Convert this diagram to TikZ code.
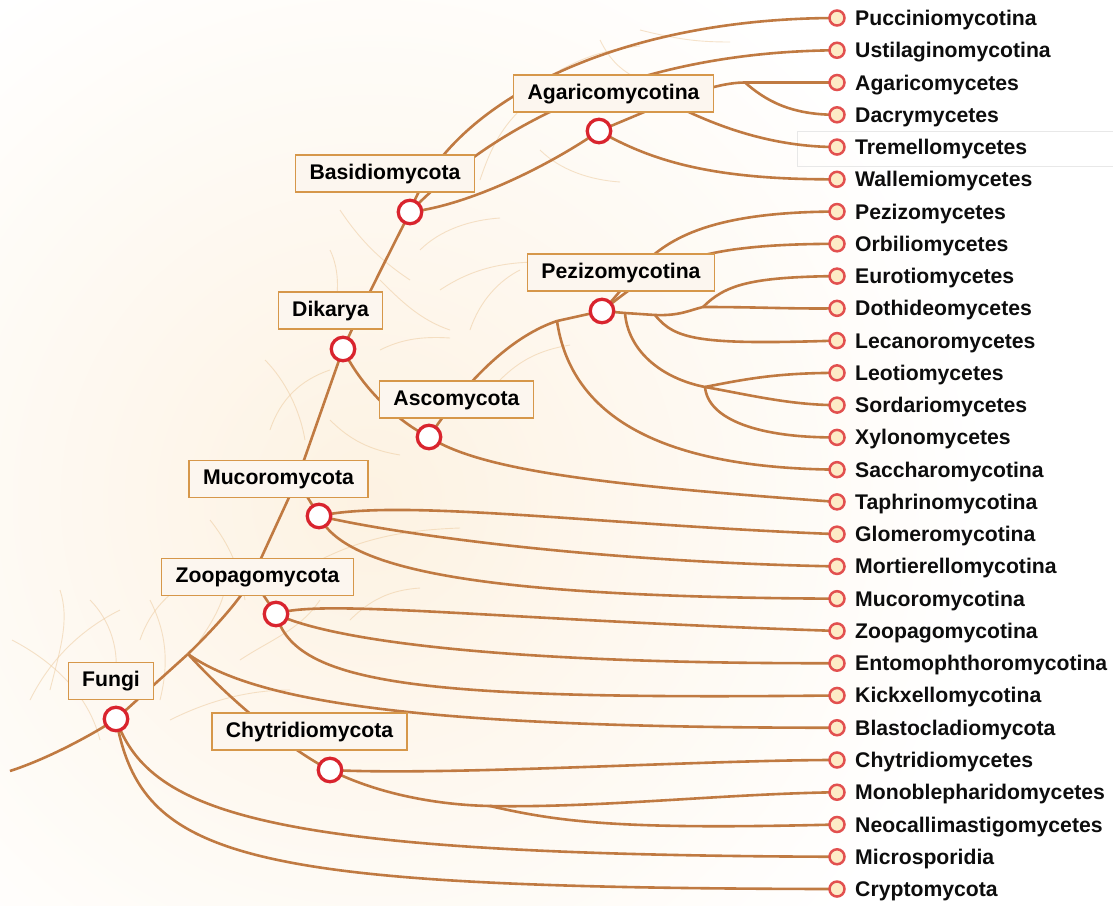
\documentclass[tikz,border=0pt]{standalone}
\usepackage{fontspec}
\setmainfont{Liberation Sans}
\pgfdeclarelayer{back}
\pgfdeclarelayer{edges}
\pgfsetlayers{back,edges,main}
\definecolor{edgecol}{HTML}{C07A42}
\definecolor{nodered}{HTML}{D9242E}
\definecolor{leafred}{HTML}{E2504F}
\definecolor{leaffill}{HTML}{FDEBC6}
\definecolor{boxfill}{HTML}{FCF6EF}
\definecolor{boxdraw}{HTML}{D6974A}
\definecolor{glow}{HTML}{FDF2E2}
\definecolor{hair}{HTML}{EDCBA0}
\tikzset{
  edgeline/.style={draw=edgecol, line width=2.6pt},
  hairline/.style={draw=hair, line width=0.9pt, opacity=0.55},
  inode/.style={circle, draw=nodered, fill=white, line width=3.3pt, minimum size=23.5pt, inner sep=0pt},
  leaf/.style={circle, draw=leafred, fill=leaffill, line width=2.5pt, minimum size=15pt, inner sep=0pt},
  lbl/.style={draw=boxdraw, fill=boxfill, line width=1.3pt, inner xsep=14pt, inner ysep=0pt,
    text height=15pt, text depth=4pt, minimum height=37pt,
    font=\fontsize{21.2}{24}\selectfont\bfseries, text=black},
  leaftext/.style={anchor=base west, inner sep=0pt, font=\fontsize{21.2}{24}\selectfont\bfseries, text=black!95}
}
\begin{document}
\begin{tikzpicture}[x=1pt, y=-1pt]
\useasboundingbox (0,0) rectangle (1113,905);
\begin{pgfonlayer}{back}
  \fill[white] (0,0) rectangle (1113,905);
  \begin{scope}
    \clip (0,0) rectangle (1113,905);
    \shade[inner color=glow, outer color=white] (370,500) circle (620);
  \end{scope}
  \draw[black!9, line width=0.8pt] (797,131) rectangle (1116,166);
  % faint hairlines
  \draw[hairline] (12,640) .. controls (60,665) and (90,700) .. (100,740);
  \draw[hairline] (30,700) .. controls (50,660) and (80,630) .. (120,610);
  \draw[hairline] (50,690) .. controls (60,650) and (70,620) .. (60,590);
  \draw[hairline] (140,640) .. controls (150,610) and (170,590) .. (200,575);
  \draw[hairline] (150,600) .. controls (165,630) and (170,660) .. (160,700);
  \draw[hairline] (200,640) .. controls (220,610) and (230,590) .. (225,560);
  \draw[hairline] (170,720) .. controls (210,700) and (250,690) .. (290,690);
  \draw[hairline] (240,660) .. controls (270,640) and (300,630) .. (320,600);
  \draw[hairline] (210,520) .. controls (230,545) and (240,570) .. (245,600);
  \draw[hairline] (320,560) .. controls (360,540) and (400,530) .. (460,528);
  \draw[hairline] (350,620) .. controls (370,600) and (390,590) .. (420,588);
  \draw[hairline] (270,430) .. controls (280,400) and (300,380) .. (330,370);
  \draw[hairline] (265,360) .. controls (285,380) and (300,410) .. (305,440);
  \draw[hairline] (330,420) .. controls (350,440) and (370,450) .. (400,455);
  \draw[hairline] (340,210) .. controls (360,240) and (380,260) .. (410,280);
  \draw[hairline] (330,250) .. controls (340,270) and (340,300) .. (330,320);
  \draw[hairline] (380,280) .. controls (400,300) and (420,320) .. (450,330);
  \draw[hairline] (420,250) .. controls (440,230) and (470,220) .. (500,218);
  \draw[hairline] (440,290) .. controls (470,270) and (500,262) .. (540,262);
  \draw[hairline] (470,330) .. controls (480,300) and (500,280) .. (520,270);
  \draw[hairline] (480,180) .. controls (490,150) and (500,130) .. (520,110);
  \draw[hairline] (540,150) .. controls (560,170) and (590,180) .. (620,182);
  \draw[hairline] (560,70) .. controls (580,60) and (600,50) .. (640,46);
  \draw[hairline] (600,40) .. controls (610,60) and (620,70) .. (640,80);
  \draw[hairline] (640,30) .. controls (680,40) and (700,42) .. (730,42);
  \draw[hairline] (380,350) .. controls (400,340) and (420,336) .. (450,338);
  \draw[hairline] (500,380) .. controls (520,360) and (540,350) .. (570,345);
  \draw[hairline] (90,600) .. controls (110,620) and (120,650) .. (115,680);
\end{pgfonlayer}

% leaves
\foreach \n/\t [count=\i] in {puc/Pucciniomycotina, ust/Ustilaginomycotina, agm/Agaricomycetes,
  dac/Dacrymycetes, tre/Tremellomycetes, wal/Wallemiomycetes, pez/Pezizomycetes,
  orb/Orbiliomycetes, eur/Eurotiomycetes, dot/Dothideomycetes, lec/Lecanoromycetes,
  leo/Leotiomycetes, sor/Sordariomycetes, xyl/Xylonomycetes, sac/Saccharomycotina,
  tap/Taphrinomycotina, glo/Glomeromycotina, mor/Mortierellomycotina, muc/Mucoromycotina,
  zoo/Zoopagomycotina, ent/Entomophthoromycotina, kic/Kickxellomycotina,
  bla/Blastocladiomycota, chy/Chytridiomycetes, mon/Monoblepharidomycetes,
  neo/Neocallimastigomycetes, mic/Microsporidia, cry/Cryptomycota} {
  \node[leaf] (\n) at (837,{18+(\i-1)*32.26}) {};
  \node[leaftext] (\n-t) at (855,{18+(\i-1)*32.26+7.5}) {\t};
}

% junction coordinates
\coordinate (root) at (10,771);
\coordinate (j1) at (188,654);
\coordinate (j2) at (252,578);
\coordinate (j3) at (297,480);
\coordinate (j4) at (490,806);
\coordinate (j5) at (557,321);
\coordinate (j6) at (655,315);
\coordinate (j7) at (703,307);
\coordinate (j8) at (705,387);
\coordinate (j9) at (625,313);
\coordinate (jt) at (668,102);
\coordinate (ja) at (745,82.5);

% labels (boxes)
\node[lbl] (fungi-l) at (111,681) {Fungi};
\node[lbl] (zoopago-l) at (257.5,577) {Zoopagomycota};
\node[lbl] (chytrid-l) at (309.5,731.5) {Chytridiomycota};
\node[lbl] (mucoro-l) at (278.5,479) {Mucoromycota};
\node[lbl] (dikarya-l) at (330.5,310.5) {Dikarya};
\node[lbl] (basidio-l) at (385,173.5) {Basidiomycota};
\node[lbl] (agarico-l) at (613.5,93.5) {Agaricomycotina};
\node[lbl] (pezizo-l) at (621,272.5) {Pezizomycotina};
\node[lbl] (asco-l) at (456.5,399.5) {Ascomycota};

% internal nodes
\node[inode] (fungi) at (116,719) {};
\node[inode] (zoopago) at (276,614) {};
\node[inode] (mucoro) at (319,516) {};
\node[inode] (dikarya) at (343,349) {};
\node[inode] (basidio) at (410,212) {};
\node[inode] (agarico) at (599,131) {};
\node[inode] (asco) at (429,437) {};
\node[inode] (pezizo) at (602,311) {};
\node[inode] (chytrid) at (330,770) {};

\begin{pgfonlayer}{edges}
  \draw[edgeline] (root) .. controls (50,758) and (95,733) .. (fungi.center);
  \draw[edgeline] (fungi.center) -- (j1);
  \draw[edgeline] (j1) .. controls (225,618) and (245,592) .. (j2);
  \draw[edgeline] (j2) -- (j3);
  \draw[edgeline] (j3) -- (dikarya.center);
  \draw[edgeline] (j2) -- (zoopago.center);
  \draw[edgeline] (j3) -- (mucoro.center);
  \draw[edgeline] (j1) .. controls (255,702) and (420,728) .. (bla.center);
  \draw[edgeline] (j1) .. controls (230,700) and (290,750) .. (chytrid.center);
  \draw[edgeline] (fungi.center) .. controls (150,815) and (270,855) .. (mic.center);
  \draw[edgeline] (fungi.center) .. controls (142,860) and (240,888) .. (cry.center);
  % Chytridiomycota
  \draw[edgeline] (chytrid.center) .. controls (450,776) and (700,760) .. (chy.center);
  \draw[edgeline] (chytrid.center) .. controls (380,795) and (440,805) .. (j4);
  \draw[edgeline] (j4) .. controls (600,808) and (720,794) .. (mon.center);
  \draw[edgeline] (j4) .. controls (560,822) and (620,830) .. (neo.center);
  % Mucoromycota
  \draw[edgeline] (mucoro.center) .. controls (400,498) and (600,525) .. (glo.center);
  \draw[edgeline] (mucoro.center) .. controls (400,535) and (600,562) .. (mor.center);
  \draw[edgeline] (mucoro.center) .. controls (345,570) and (480,597) .. (muc.center);
  % Zoopagomycota
  \draw[edgeline] (zoopago.center) .. controls (320,598) and (500,620) .. (zoo.center);
  \draw[edgeline] (zoopago.center) .. controls (330,640) and (500,664) .. (ent.center);
  \draw[edgeline] (zoopago.center) .. controls (295,685) and (420,700) .. (kic.center);
  % Dikarya
  \draw[edgeline] (dikarya.center) .. controls (365,300) and (392,248) .. (basidio.center);
  \draw[edgeline] (dikarya.center) .. controls (360,385) and (395,420) .. (asco.center);
  % Basidiomycota
  \draw[edgeline] (basidio.center) .. controls (450,100) and (620,18) .. (puc.center);
  \draw[edgeline] (basidio.center) .. controls (470,150) and (600,52) .. (ust.center);
  \draw[edgeline] (basidio.center) .. controls (470,205) and (550,165) .. (agarico.center);
  % Agaricomycotina
  \draw[edgeline] (agarico.center) -- (jt);
  \draw[edgeline] (jt) .. controls (700,90) and (725,82.5) .. (ja);
  \draw[edgeline] (ja) -- (agm.center);
  \draw[edgeline] (ja) .. controls (765,100) and (790,115) .. (dac.center);
  \draw[edgeline] (jt) .. controls (700,118) and (760,147) .. (tre.center);
  \draw[edgeline] (agarico.center) .. controls (650,160) and (710,180) .. (wal.center);
  % Ascomycota
  \draw[edgeline] (asco.center) .. controls (480,470) and (600,485) .. (tap.center);
  \draw[edgeline] (asco.center) .. controls (470,375) and (515,335) .. (j5);
  \draw[edgeline] (j5) -- (pezizo.center);
  \draw[edgeline] (j5) .. controls (570,410) and (650,468) .. (sac.center);
  % Pezizomycotina
  \draw[edgeline] (pezizo.center) .. controls (645,270) and (650,212) .. (pez.center);
  \draw[edgeline] (pezizo.center) .. controls (660,265) and (690,244) .. (orb.center);
  \draw[edgeline] (pezizo.center) -- (j9);
  \draw[edgeline] (j9) -- (j6);
  \draw[edgeline] (j6) .. controls (680,316) and (690,310) .. (j7);
  \draw[edgeline] (j7) .. controls (725,285) and (750,277) .. (eur.center);
  \draw[edgeline] (j7) .. controls (760,307) and (790,309) .. (dot.center);
  \draw[edgeline] (j6) .. controls (675,340) and (700,345) .. (lec.center);
  \draw[edgeline] (j9) .. controls (628,350) and (660,378) .. (j8);
  \draw[edgeline] (j8) .. controls (750,378) and (780,373) .. (leo.center);
  \draw[edgeline] (j8) .. controls (750,395) and (790,405) .. (sor.center);
  \draw[edgeline] (j8) .. controls (708,420) and (760,438) .. (xyl.center);
\end{pgfonlayer}
\end{tikzpicture}
\end{document}
